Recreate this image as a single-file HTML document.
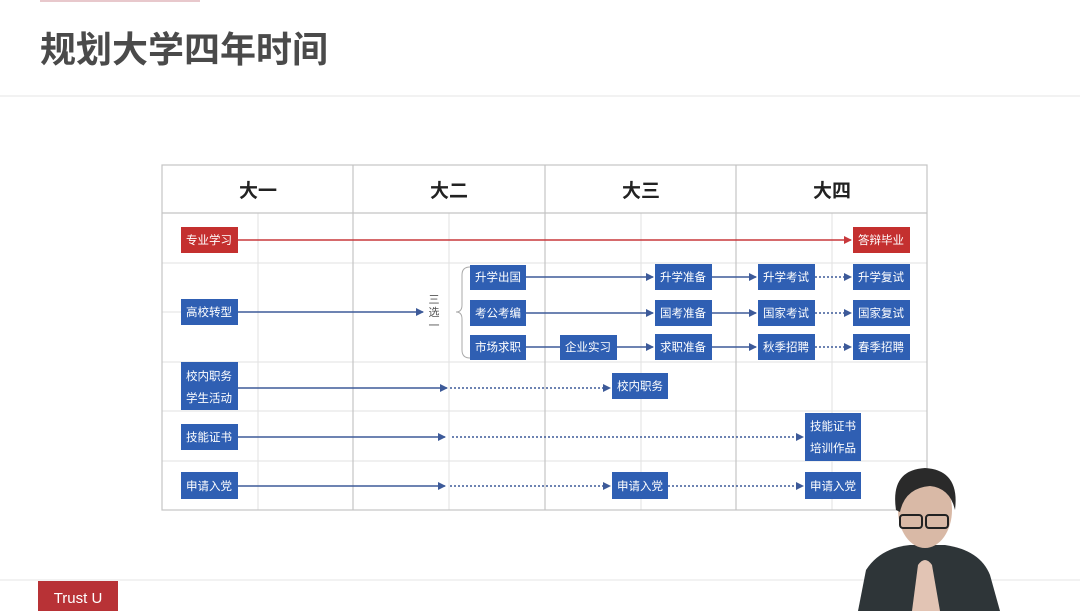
<!DOCTYPE html>
<html><head><meta charset="utf-8"><style>
body{margin:0;width:1080px;height:611px;background:#fff;overflow:hidden;font-family:"Liberation Sans","Noto Sans CJK SC",sans-serif}
</style></head><body>
<svg width="1080" height="611" viewBox="0 0 1080 611" xmlns="http://www.w3.org/2000/svg" font-family="Liberation Sans, Noto Sans CJK SC, sans-serif">
<defs>
<marker id="a" markerWidth="8" markerHeight="8" refX="7" refY="4" orient="auto" markerUnits="userSpaceOnUse"><path d="M0,0 L8,4 L0,8z" fill="#3d5a99"/></marker>
<marker id="r" markerWidth="8" markerHeight="8" refX="7" refY="4" orient="auto" markerUnits="userSpaceOnUse"><path d="M0,0 L8,4 L0,8z" fill="#c8383c"/></marker>
</defs>
<rect x="40" y="0" width="160" height="2" fill="#e8c8cc"/>
<text x="40" y="62" font-size="36" font-weight="bold" fill="#4a4a4a">规划大学四年时间</text>
<line x1="0" y1="96" x2="1080" y2="96" stroke="#eee" stroke-width="1.5"/>
<line x1="0" y1="580" x2="1080" y2="580" stroke="#eee" stroke-width="1.5"/>
<rect x="38" y="581" width="80" height="30" fill="#b83236"/>
<text x="78" y="603" font-size="15" fill="#fff" text-anchor="middle">Trust U</text>
<g stroke="#e2e2e2" stroke-width="1">
<line x1="258" y1="213" x2="258" y2="510"/><line x1="449" y1="213" x2="449" y2="510"/>
<line x1="641" y1="213" x2="641" y2="510"/><line x1="832" y1="213" x2="832" y2="510"/>
<line x1="162" y1="263" x2="927" y2="263"/><line x1="162" y1="312" x2="200" y2="312"/>
<line x1="162" y1="362" x2="927" y2="362"/><line x1="162" y1="411" x2="927" y2="411"/>
<line x1="162" y1="461" x2="927" y2="461"/>
</g>
<g stroke="#c4c4c4" stroke-width="1.2" fill="none">
<rect x="162" y="165" width="765" height="345"/>
<line x1="162" y1="213" x2="927" y2="213"/>
<line x1="353" y1="165" x2="353" y2="510"/><line x1="545" y1="165" x2="545" y2="510"/><line x1="736" y1="165" x2="736" y2="510"/>
</g>
<g font-size="19" fill="#222" text-anchor="middle" font-weight="bold">
<text x="258" y="197">大一</text><text x="449" y="197">大二</text><text x="641" y="197">大三</text><text x="832" y="197">大四</text>
</g>
<line x1="238" y1="240" x2="851" y2="240" stroke="#c8383c" stroke-width="1.5" marker-end="url(#r)"/>
<g stroke="#3d5a99" stroke-width="1.5" fill="none">
<line x1="238" y1="312" x2="423" y2="312" marker-end="url(#a)"/>
<path d="M470,267 Q462,267 462,275 L462,305 Q462,312 456,312 Q462,312 462,319 L462,350 Q462,358 470,358" stroke="#aaa" stroke-width="1"/>
<line x1="526" y1="277" x2="653" y2="277" marker-end="url(#a)"/>
<line x1="526" y1="313" x2="653" y2="313" marker-end="url(#a)"/>
<line x1="526" y1="347" x2="560" y2="347"/>
<line x1="617" y1="347" x2="653" y2="347" marker-end="url(#a)"/>
<line x1="712" y1="277" x2="756" y2="277" marker-end="url(#a)"/>
<line x1="712" y1="313" x2="756" y2="313" marker-end="url(#a)"/>
<line x1="712" y1="347" x2="756" y2="347" marker-end="url(#a)"/>
<line x1="238" y1="388" x2="447" y2="388" marker-end="url(#a)"/>
<line x1="238" y1="437" x2="445" y2="437" marker-end="url(#a)"/>
<line x1="238" y1="486" x2="445" y2="486" marker-end="url(#a)"/>
<g stroke-dasharray="2,2">
<line x1="815" y1="277" x2="851" y2="277" marker-end="url(#a)"/>
<line x1="815" y1="313" x2="851" y2="313" marker-end="url(#a)"/>
<line x1="815" y1="347" x2="851" y2="347" marker-end="url(#a)"/>
<line x1="450" y1="388" x2="610" y2="388" marker-end="url(#a)"/>
<line x1="452" y1="437" x2="803" y2="437" marker-end="url(#a)"/>
<line x1="450" y1="486" x2="610" y2="486" marker-end="url(#a)"/>
<line x1="668" y1="486" x2="803" y2="486" marker-end="url(#a)"/>
</g>
</g>
<g font-size="11" fill="#555" text-anchor="middle"><text x="434" y="303">三</text><text x="434" y="316">选</text><text x="434" y="329">一</text></g>
<g fill="#2f5fb3">
<rect x="181" y="227" width="57" height="26" fill="#c4302f"/>
<rect x="853" y="227" width="57" height="26" fill="#c4302f"/>
<rect x="181" y="299" width="57" height="26"/>
<rect x="470" y="265" width="56" height="25"/><rect x="470" y="300" width="56" height="26"/><rect x="470" y="335" width="56" height="25"/>
<rect x="560" y="335" width="57" height="25"/>
<rect x="655" y="264" width="57" height="26"/><rect x="655" y="300" width="57" height="26"/><rect x="655" y="334" width="57" height="26"/>
<rect x="758" y="264" width="57" height="26"/><rect x="758" y="300" width="57" height="26"/><rect x="758" y="334" width="57" height="26"/>
<rect x="853" y="264" width="57" height="26"/><rect x="853" y="300" width="57" height="26"/><rect x="853" y="334" width="57" height="26"/>
<rect x="181" y="362" width="57" height="48"/>
<rect x="612" y="373" width="56" height="26"/>
<rect x="181" y="424" width="57" height="26"/>
<rect x="805" y="413" width="56" height="48"/>
<rect x="181" y="472" width="57" height="27"/><rect x="612" y="472" width="56" height="27"/><rect x="805" y="472" width="56" height="27"/>
</g>
<g font-size="11.5" fill="#fff" text-anchor="middle">
<text x="209" y="244">专业学习</text><text x="881" y="244">答辩毕业</text>
<text x="209" y="316">高校转型</text>
<text x="498" y="281">升学出国</text><text x="498" y="317">考公考编</text><text x="498" y="351">市场求职</text>
<text x="588" y="351">企业实习</text>
<text x="683" y="281">升学准备</text><text x="683" y="317">国考准备</text><text x="683" y="351">求职准备</text>
<text x="786" y="281">升学考试</text><text x="786" y="317">国家考试</text><text x="786" y="351">秋季招聘</text>
<text x="881" y="281">升学复试</text><text x="881" y="317">国家复试</text><text x="881" y="351">春季招聘</text>
<text x="209" y="380">校内职务</text><text x="209" y="402">学生活动</text>
<text x="640" y="390">校内职务</text>
<text x="209" y="441">技能证书</text>
<text x="833" y="430">技能证书</text><text x="833" y="452">培训作品</text>
<text x="209" y="490">申请入党</text><text x="640" y="490">申请入党</text><text x="833" y="490">申请入党</text>
</g>
<path d="M858,611 L866,570 Q880,548 910,545 L945,545 Q980,550 990,575 L1000,611z" fill="#2e3538"/>
<ellipse cx="925" cy="510" rx="27" ry="38" fill="#d9b9a6"/>
<path d="M896,510 Q890,470 925,468 Q960,470 955,510 Q950,488 930,486 Q905,488 900,512z" fill="#2a2a2a"/>
<rect x="900" y="515" width="22" height="13" rx="3" fill="none" stroke="#222" stroke-width="2"/>
<rect x="926" y="515" width="22" height="13" rx="3" fill="none" stroke="#222" stroke-width="2"/>
<path d="M912,611 L918,565 Q925,555 932,565 L940,611z" fill="#e2c4b4"/>
</svg>
</body></html>
